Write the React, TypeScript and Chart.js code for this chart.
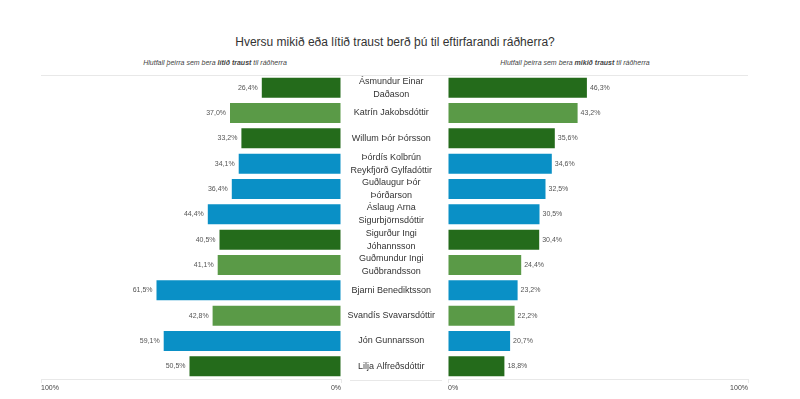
import React, { useEffect, useRef } from "react";
import { Chart, registerables } from "chart.js";

Chart.register(...registerables);

const FONT = "'Liberation Sans', Arial, Helvetica, sans-serif";

const ministers: (string | string[])[] = [
  ["Ásmundur Einar", "Daðason"],
  "Katrín Jakobsdóttir",
  "Willum Þór Þórsson",
  ["Þórdís Kolbrún", "Reykfjörð Gylfadóttir"],
  ["Guðlaugur Þór", "Þórðarson"],
  ["Áslaug Arna", "Sigurbjörnsdóttir"],
  ["Sigurður Ingi", "Jóhannsson"],
  ["Guðmundur Ingi", "Guðbrandsson"],
  "Bjarni Benediktsson",
  "Svandís Svavarsdóttir",
  "Jón Gunnarsson",
  "Lilja Alfreðsdóttir",
];

const littleTrust = [26.4, 37.0, 33.2, 34.1, 36.4, 44.4, 40.5, 41.1, 61.5, 42.8, 59.1, 50.5];
const muchTrust = [46.3, 43.2, 35.6, 34.6, 32.5, 30.5, 30.4, 24.4, 23.2, 22.2, 20.7, 18.8];

const DARK = "#246b1b";
const LIGHT = "#5a9a47";
const BLUE = "#0a90c6";
const barColors = [DARK, LIGHT, DARK, BLUE, BLUE, BLUE, DARK, LIGHT, BLUE, LIGHT, BLUE, DARK];

const axisTicks = [0, 100];

const fmt = (v: number) => v.toFixed(1).replace(".", ",") + "%";

const LINE = "#e8e8e8";

function valueLabels(side: "left" | "right") {
  return {
    id: "valueLabels" + side,
    afterDatasetsDraw(chart: any) {
      const ctx = chart.ctx;
      const meta = chart.getDatasetMeta(0);
      const data = chart.data.datasets[0].data as number[];
      ctx.save();
      ctx.font = `7px ${FONT}`;
      ctx.fillStyle = "#555";
      ctx.textBaseline = "middle";
      meta.data.forEach((el: any, i: number) => {
        if (side === "left") {
          ctx.textAlign = "right";
          ctx.fillText(fmt(data[i]), el.x - 4, el.y);
        } else {
          ctx.textAlign = "left";
          ctx.fillText(fmt(data[i]), el.x + 3, el.y);
        }
      });
      ctx.restore();
    },
  };
}

function frameLines(side: "left" | "right") {
  return {
    id: "frame" + side,
    beforeDatasetsDraw(chart: any) {
      const { ctx, chartArea, width } = chart;
      ctx.save();
      ctx.strokeStyle = LINE;
      ctx.lineWidth = 1;
      ctx.beginPath();
      if (side === "left") {
        ctx.moveTo(chartArea.left, chartArea.top + 0.5);
        ctx.lineTo(width, chartArea.top + 0.5);
      } else {
        ctx.moveTo(0, chartArea.top + 0.5);
        ctx.lineTo(chartArea.right, chartArea.top + 0.5);
        ctx.moveTo(9, chartArea.bottom + 1.5);
        ctx.lineTo(101, chartArea.bottom + 1.5);
      }
      ctx.stroke();
      ctx.restore();
    },
  };
}

function xScale(reverse: boolean) {
  return {
    type: "linear",
    min: 0,
    max: 100,
    reverse,
    afterBuildTicks: (scale: any) => {
      scale.ticks = axisTicks.map((v) => ({ value: v }));
    },
    afterFit: (scale: any) => {
      scale.height = 20;
    },
    border: { display: true, color: LINE },
    grid: { display: true, drawOnChartArea: false, drawTicks: true, tickLength: 4, color: LINE },
    ticks: {
      align: "inner",
      padding: 1,
      color: "#444",
      font: { family: FONT, size: 7 },
      callback: (v: any) => v + "%",
      maxRotation: 0,
    },
  };
}

export default function App() {
  const leftRef = useRef<HTMLCanvasElement>(null);
  const rightRef = useRef<HTMLCanvasElement>(null);

  useEffect(() => {
    const common = {
      indexAxis: "y",
      responsive: false,
      animation: false,
      plugins: { legend: { display: false }, tooltip: { enabled: false } },
    };
    const left = new Chart(leftRef.current!, {
      type: "bar",
      data: {
        labels: ministers,
        datasets: [
          {
            data: littleTrust,
            backgroundColor: barColors,
            borderWidth: 0,
            categoryPercentage: 1,
            barPercentage: 0.79,
          },
        ],
      },
      options: {
        ...common,
        layout: { padding: { top: 75, left: 41, right: 4, bottom: 0 } },
        scales: {
          x: xScale(true),
          y: { display: false },
        },
      } as any,
      plugins: [valueLabels("left"), frameLines("left")],
    });
    const right = new Chart(rightRef.current!, {
      type: "bar",
      data: {
        labels: ministers,
        datasets: [
          {
            data: muchTrust,
            backgroundColor: barColors,
            borderWidth: 0,
            categoryPercentage: 1,
            barPercentage: 0.79,
          },
        ],
      },
      options: {
        ...common,
        layout: { padding: { top: 75, left: 0, right: 52, bottom: 0 } },
        scales: {
          x: xScale(false),
          y: {
            afterFit: (scale: any) => {
              scale.width = 107;
            },
            border: { display: false },
            grid: { display: false },
            ticks: {
              crossAlign: "center",
              padding: 5,
              color: "#333",
              font: { family: FONT, size: 9, lineHeight: 1.45 },
              autoSkip: false,
            },
          },
        },
      } as any,
      plugins: [valueLabels("right"), frameLines("right")],
    });
    return () => {
      left.destroy();
      right.destroy();
    };
  }, []);

  const sub: React.CSSProperties = {
    position: "absolute",
    top: 58,
    fontFamily: FONT,
    fontStyle: "italic",
    fontSize: 7,
    color: "#444",
    whiteSpace: "nowrap",
    transform: "translateX(-50%)",
    lineHeight: "10px",
  };

  return (
    <div style={{ position: "absolute", left: 0, top: 0, width: 800, height: 399, background: "#fff", overflow: "hidden" }}>
      <div
        style={{
          position: "absolute",
          left: 395,
          top: 34,
          transform: "translateX(-50%)",
          fontFamily: FONT,
          fontSize: 12,
          lineHeight: "16px",
          color: "#333",
          whiteSpace: "nowrap",
        }}
      >
        Hversu mikið eða lítið traust berð þú til eftirfarandi ráðherra?
      </div>
      <div style={{ ...sub, left: 215 }}>
        Hlutfall þeirra sem bera <b>lítið traust</b> til ráðherra
      </div>
      <div style={{ ...sub, left: 575 }}>
        Hlutfall þeirra sem bera <b>mikið traust</b> til ráðherra
      </div>
      <canvas ref={leftRef} width={345} height={399} style={{ position: "absolute", left: 0, top: 0 }} />
      <canvas ref={rightRef} width={459} height={399} style={{ position: "absolute", left: 341, top: 0 }} />
    </div>
  );
}
